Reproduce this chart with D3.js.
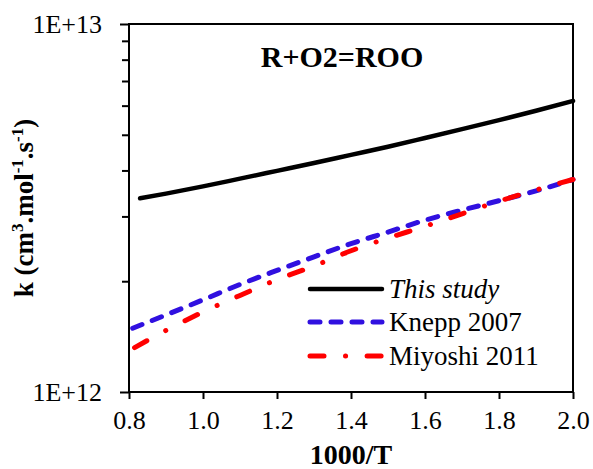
<!DOCTYPE html>
<meta charset="utf-8">
<script src="https://d3js.org/d3.v7.min.js"></script>
<style>
  body { margin: 0; background: #fff; }
  text { font-family: "Liberation Serif", "Times New Roman", serif; fill: #000; }
</style>
<svg id="vis"></svg>
<script>
    // chart size (same as the picture)
    var W = 593, H = 469;
    var margin = {top: 24, right: 20, bottom: 77, left: 129},
        width = W - margin.left - margin.right,
        height = H - margin.top - margin.bottom;

    // data: k in units of 1E+12
    let xThis = [0.83, 0.9, 1.0, 1.1, 1.2, 1.3, 1.4, 1.5, 1.6, 1.7, 1.8, 1.9, 2.0]
    let kThis = [3.36, 3.46, 3.62, 3.80, 3.99, 4.19, 4.41, 4.64, 4.90, 5.18, 5.48, 5.81, 6.18]
    let xKnepp = [0.81, 0.9, 1.0, 1.1, 1.2, 1.3, 1.4, 1.5, 1.6, 1.7, 1.8, 1.9, 2.0]
    let kKnepp = [1.49, 1.62, 1.78, 1.96, 2.14, 2.33, 2.53, 2.72, 2.93, 3.12, 3.31, 3.52, 3.78]
    let xMiyoshi = [0.815, 0.9, 1.0, 1.1, 1.2, 1.3, 1.4, 1.5, 1.6, 1.7, 1.8, 1.9, 2.0]
    let kMiyoshi = [1.32, 1.47, 1.65, 1.83, 2.02, 2.20, 2.42, 2.62, 2.82, 3.05, 3.30, 3.54, 3.78]

    let seriesNames = ['This study', 'Knepp 2007', 'Miyoshi 2011']
    let xTicks = [0.8, 1.0, 1.2, 1.4, 1.6, 1.8, 2.0]
    let yMajor = [1e12, 1e13]
    let yMajorLabels = ['1E+12', '1E+13']
    let yMinor = [2e12, 3e12, 4e12, 5e12, 6e12, 7e12, 8e12, 9e12]

    let series = [
        {name: seriesNames[0], xs: xThis, ks: kThis, color: '#000000', dash: null, w: 4.5},
        {name: seriesNames[1], xs: xKnepp, ks: kKnepp, color: '#3010e0', dash: '10,11', w: 5},
        {name: seriesNames[2], xs: xMiyoshi, ks: kMiyoshi, color: '#ff0000', dash: '14,21.5,0.1,21.5', w: 5}
    ]

    let svg = d3.select('#vis')
        .attr('width', W)
        .attr('height', H)
        .append('g')
        .attr('transform', 'translate(' + margin.left + ',' + margin.top + ')');

    var x = d3.scaleLinear()
        .domain([0.8, 2.0])
        .range([0, width]);

    var y = d3.scaleLog()
        .domain([1e12, 1e13])
        .range([height, 0]);

    // X axis
    var xAxis = svg.append('g')
        .attr('transform', 'translate(0,' + height + ')')
        .call(d3.axisBottom(x).tickValues(xTicks).tickFormat(d3.format('.1f'))
            .tickSize(7).tickPadding(12));
    xAxis.select('.domain').remove();
    xAxis.selectAll('line').attr('stroke', '#000').attr('stroke-width', 2);
    xAxis.selectAll('text').attr('font-size', 26).attr('font-family', '"Liberation Serif", serif');

    // Y axis, major ticks with labels
    var yAxis = svg.append('g')
        .call(d3.axisLeft(y).tickValues(yMajor)
            .tickFormat(function (d, i) { return yMajorLabels[i] })
            .tickSize(9).tickPadding(18));
    yAxis.select('.domain').remove();
    yAxis.selectAll('line').attr('stroke', '#000').attr('stroke-width', 2);
    yAxis.selectAll('text').attr('font-size', 26).attr('font-family', '"Liberation Serif", serif')
        .attr('dy', '0.34em');

    // Y axis minor ticks
    var yMin = svg.append('g')
        .call(d3.axisLeft(y).tickValues(yMinor).tickFormat('').tickSize(7));
    yMin.select('.domain').remove();
    yMin.selectAll('line').attr('stroke', '#000').attr('stroke-width', 2);

    // plot frame
    svg.append('rect')
        .attr('x', 0)
        .attr('y', 0)
        .attr('width', width)
        .attr('height', height)
        .attr('fill', 'none')
        .attr('stroke', '#000')
        .attr('stroke-width', 2);

    // curves
    var line = d3.line()
        .x(function (d) { return x(d[0]) })
        .y(function (d) { return y(d[1] * 1e12) })
        .curve(d3.curveMonotoneX);

    series.forEach(function (s) {
        var pts = s.xs.map(function (v, i) { return [v, s.ks[i]] });
        svg.append('path')
            .datum(pts)
            .attr('d', line)
            .attr('fill', 'none')
            .attr('stroke', s.color)
            .attr('stroke-width', s.w)
            .attr('stroke-linecap', 'round')
            .attr('stroke-dasharray', s.dash);
    });

    // title
    svg.append('text')
        .attr('x', 213)
        .attr('y', 43)
        .attr('text-anchor', 'middle')
        .attr('font-size', 30)
        .attr('font-weight', 'bold')
        .text('R+O2=ROO');

    // legend
    var legY = [265, 298, 332];
    var leg = svg.append('g');
    series.forEach(function (s, i) {
        leg.append('line')
            .attr('x1', 181).attr('x2', 253)
            .attr('y1', legY[i]).attr('y2', legY[i])
            .attr('stroke', s.color)
            .attr('stroke-width', s.w)
            .attr('stroke-linecap', 'round')
            .attr('stroke-dasharray', s.dash);
        leg.append('text')
            .attr('x', 260)
            .attr('y', legY[i] + 9)
            .attr('font-size', 27)
            .attr('font-style', i === 0 ? 'italic' : 'normal')
            .text(s.name);
    });

    // X label
    svg.append('text')
        .attr('x', width / 2)
        .attr('y', height + 72)
        .attr('text-anchor', 'middle')
        .attr('font-size', 28)
        .attr('font-weight', 'bold')
        .text('1000/T');

    // Y label with superscripts
    var yl = svg.append('text')
        .attr('transform', 'translate(' + (33 - margin.left) + ',' + (height / 2) + ') rotate(-90)')
        .attr('text-anchor', 'middle')
        .attr('font-size', 27)
        .attr('font-weight', 'bold');
    yl.append('tspan').text('k (cm');
    yl.append('tspan').attr('font-size', 17).attr('dy', -10).text('3');
    yl.append('tspan').attr('dy', 10).text('.mol');
    yl.append('tspan').attr('font-size', 17).attr('dy', -10).text('-1');
    yl.append('tspan').attr('dy', 10).text('.s');
    yl.append('tspan').attr('font-size', 17).attr('dy', -10).text('-1');
    yl.append('tspan').attr('dy', 10).text(')');
</script>
